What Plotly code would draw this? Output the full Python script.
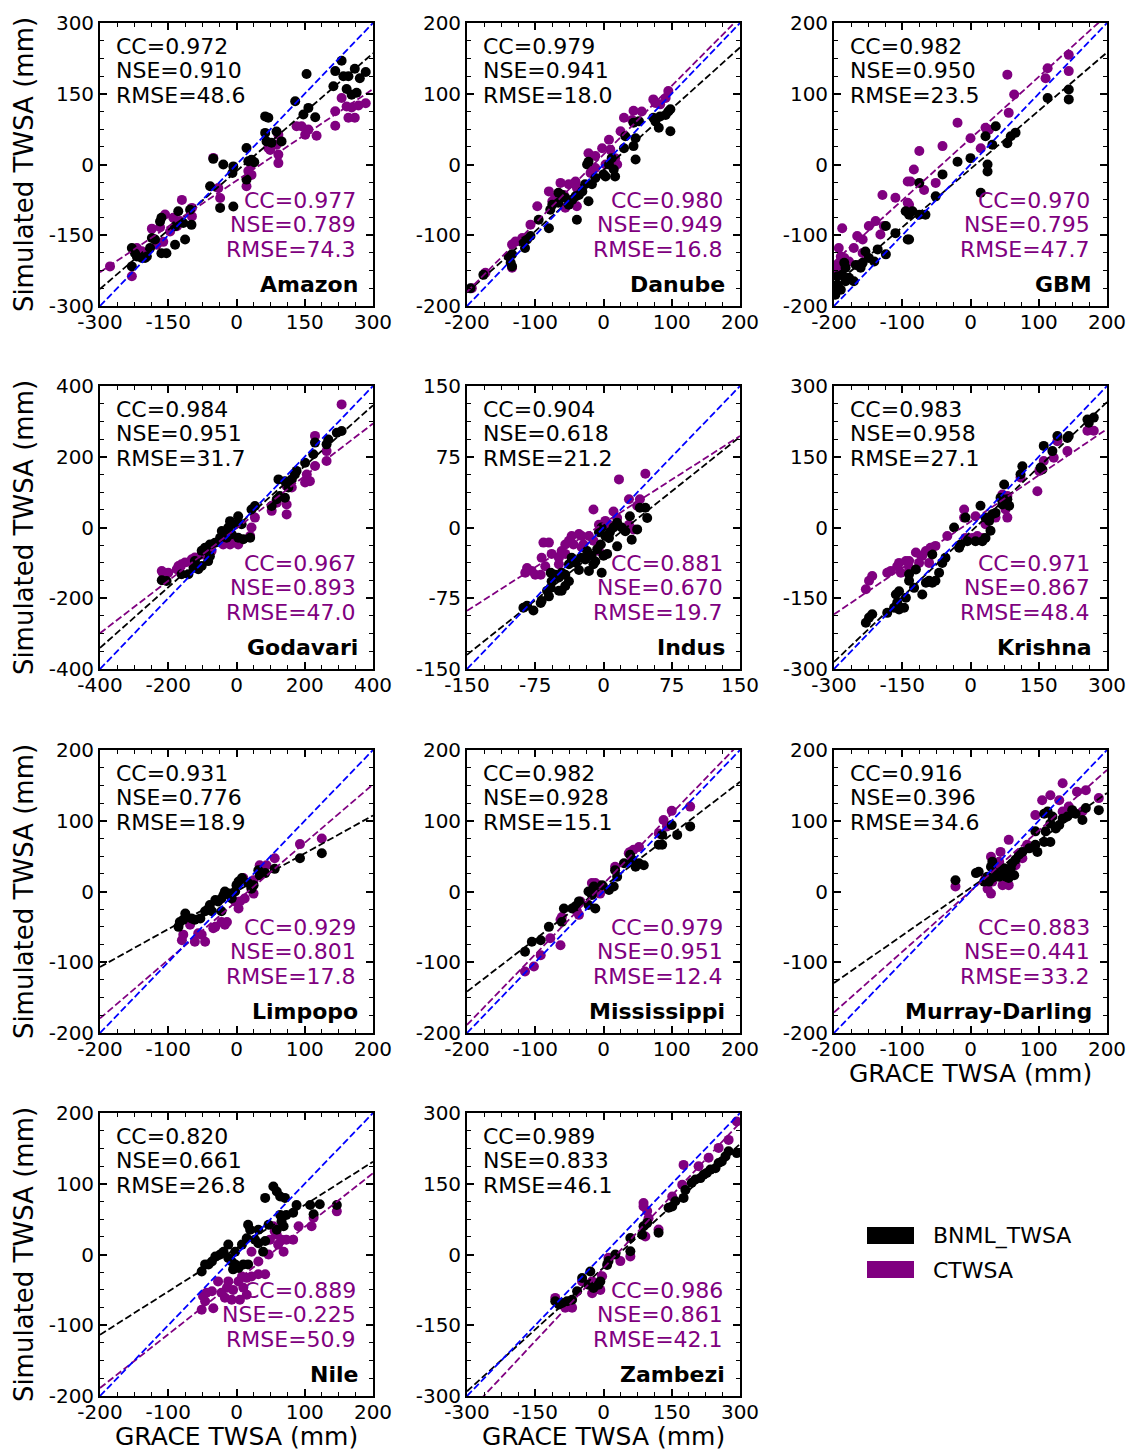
import numpy as np
import plotly.graph_objects as go

# ---------------- data ----------------
BASINS = ["Amazon", "Danube", "GBM", "Godavari", "Indus", "Krishna",
          "Limpopo", "Mississippi", "Murray-Darling", "Nile", "Zambezi"]
AXIS_LIMIT = [300, 200, 200, 400, 150, 300, 200, 200, 200, 200, 300]
TICK_STEP = [150, 100, 100, 200, 75, 150, 100, 100, 100, 100, 150]

CC_BNML = ["0.972", "0.979", "0.982", "0.984", "0.904", "0.983", "0.931", "0.982", "0.916", "0.820", "0.989"]
NSE_BNML = ["0.910", "0.941", "0.950", "0.951", "0.618", "0.958", "0.776", "0.928", "0.396", "0.661", "0.833"]
RMSE_BNML = ["48.6", "18.0", "23.5", "31.7", "21.2", "27.1", "18.9", "15.1", "34.6", "26.8", "46.1"]
CC_CTWSA = ["0.977", "0.980", "0.970", "0.967", "0.881", "0.971", "0.929", "0.979", "0.883", "0.889", "0.986"]
NSE_CTWSA = ["0.789", "0.949", "0.795", "0.893", "0.670", "0.867", "0.801", "0.951", "0.441", "-0.225", "0.861"]
RMSE_CTWSA = ["74.3", "16.8", "47.7", "47.0", "19.7", "48.4", "17.8", "12.4", "33.2", "50.9", "42.1"]

AMAZON_BNML_X = [231,154,217,235,246,260,284,271,213,242,253,264,129,158,147,173,63,70,88,63,66,77,99,22,33,26,39,-51,-29,-7,-9,22,-58,-36,-7,-102,-99,-128,-117,-135,-165,-168,-113,-135,-165,-154,-179,-186,-197,-223,-219,-230,-208,-201,-230,-190]
AMAZON_BNML_Y = [220,192,198,187,187,203,196,183,166,160,148,152,134,120,106,100,102,99,70,67,49,46,49,35,10,7,5,12,0,-4,-18,-32,-46,-92,-89,-96,-128,-99,-124,-131,-113,-121,-159,-170,-188,-188,-159,-156,-195,-188,-195,-177,-198,-198,-216,-177]
AMAZON_CTWSA_X = [231,242,253,268,284,260,246,217,217,176,151,143,132,158,92,88,74,92,92,70,33,26,33,-51,-40,-36,22,-120,-98,-157,-186,-168,-146,-131,-124,-139,-161,-175,-208,-219,-230,-278,-201,-98]
AMAZON_CTWSA_Y = [141,123,121,125,130,99,99,113,82,61,63,81,81,74,63,42,31,21,3,35,0,-14,-22,14,-50,-71,-46,-75,-110,-106,-136,-133,-142,-131,-120,-113,-164,-170,-184,-177,-237,-216,-191,-92]

DANUBE_BNML_X = [98,81,76,73,83,91,95,98,44,52,47,47,44,30,32,12,8,15,17,3,0,-22,-24,-12,-17,-27,-31,-36,-41,-46,-56,-61,-66,-51,-75,-78,-66,-39,-22,-80,-95,-107,-112,-117,-115,-134,-136,-134,-139,-176,-195]
DANUBE_BNML_Y = [47,52,61,66,68,70,75,78,59,61,37,7,26,23,40,9,0,-7,-17,-17,-14,4,0,-19,-28,-28,-38,-43,-45,-50,-47,-43,-40,-57,-57,-64,-54,-78,-52,-90,-78,-101,-106,-109,-118,-127,-139,-144,-130,-156,-175]
DANUBE_CTWSA_X = [95,73,76,83,91,44,56,30,42,25,8,10,-2,-12,-22,17,20,3,-19,-12,-41,-39,-51,-63,-58,-80,-75,-56,-39,-97,-107,-119,-129,-134,-134,-173,-193,-71,-46]
DANUBE_CTWSA_Y = [104,92,87,85,94,76,75,66,63,47,35,21,23,12,16,9,0,0,-12,-5,-24,-33,-28,-26,-43,-38,-52,-61,-59,-59,-85,-104,-109,-113,-146,-153,-175,-47,-50]

GBM_BNML_X = [144,144,113,66,59,54,37,22,32,25,25,15,0,-19,-41,-51,-75,-66,-75,-85,-90,-95,-90,-92,-110,-124,-124,-136,-141,-149,-158,-161,-168,-183,-188,-183,-171,-195,-195,-198,-198,-190,-178,-154,-185]
GBM_BNML_Y = [106,92,94,45,40,30,54,40,28,0,-10,-40,9,4,-14,-45,-26,-71,-71,-66,-71,-66,-106,-106,-97,-87,-127,-120,-137,-132,-139,-146,-142,-146,-156,-165,-165,-158,-170,-184,-175,-177,-160,-123,-139]
GBM_CTWSA_X = [144,144,113,110,54,64,56,22,27,15,0,-19,-41,-75,-83,-92,-88,-51,-68,-129,-110,-92,-90,-139,-149,-166,-132,-127,-158,-171,-158,-188,-193,-190,-195,-185,-198,-178,-163,-190]
GBM_CTWSA_Y = [155,132,136,122,127,99,73,52,49,23,37,59,26,19,-7,-24,-24,-26,-36,-43,-47,-54,-57,-80,-87,-101,-99,-87,-106,-118,-125,-90,-118,-130,-142,-132,-151,-137,-142,-153]

GODAVARI_BNML_X = [308,294,269,264,230,225,201,176,171,162,142,123,152,127,142,118,103,54,44,5,-4,-24,-34,-43,-14,5,20,40,-48,-63,-78,-92,-102,-83,-102,-112,-126,-122,-141,-161,-205,-219,-78,-19,15,-29]
GODAVARI_BNML_Y = [273,268,249,235,240,207,183,160,150,136,131,136,113,89,84,80,61,61,51,32,9,0,-15,-10,-19,-29,-33,-29,-29,-43,-48,-57,-66,-95,-109,-118,-114,-95,-132,-132,-151,-149,-81,18,9,-29]
GODAVARI_CTWSA_X = [308,230,264,264,230,215,201,206,147,162,147,147,103,118,54,44,40,-4,-19,5,-39,-73,-122,-131,-151,-170,-175,-200,-219,-214,-102,-161]
GODAVARI_CTWSA_Y = [348,259,216,188,174,131,127,150,117,113,65,37,47,70,28,0,-24,-33,-48,-48,-48,-66,-85,-90,-99,-109,-118,-128,-123,-132,-76,-104]

INDUS_BNML_X = [46,40,48,37,29,31,24,20,15,11,7,6,2,-2,-5,-3,4,15,-7,-9,-11,-13,-18,-20,-25,-31,-35,-27,-38,-42,-46,-49,-53,-58,-57,-38,-42,-46,-49,-58,-62,-60,-68,-69,-77,-84,-88,-2,-16,0]
INDUS_BNML_Y = [21,21,10,-2,12,-13,-4,0,5,0,-5,-11,-9,0,-5,-18,-28,-20,-23,-36,-39,-30,-25,-34,-32,-37,-32,-45,-39,-50,-48,-53,-50,-48,-57,-57,-62,-67,-67,-64,-67,-73,-78,-80,-88,-83,-85,-48,-46,-30]
INDUS_CTWSA_X = [17,46,40,28,37,11,-11,-5,2,15,28,33,6,-16,-24,-27,-35,-38,-33,-42,-46,-42,-49,-57,-66,-60,-68,-64,-79,-84,-86,-75,-69,-49,-24,-5,-11,-22]
INDUS_CTWSA_Y = [51,57,30,30,23,17,19,3,7,10,3,-2,3,-9,-9,-7,-9,-14,-18,-18,-25,-28,-32,-28,-16,-16,-32,-41,-46,-43,-48,-50,-50,-39,-21,-25,-14,-18]

KRISHNA_BNML_X = [271,257,260,216,213,191,180,161,158,154,114,110,74,81,85,70,66,48,55,33,41,22,-11,-36,44,33,26,11,-7,-25,-22,-55,-62,-69,-77,-84,-91,-98,-84,-120,-135,-135,-124,-157,-164,-161,-146,-157,-168,-183,-216,-223,-230,-106,-142]
KRISHNA_BNML_Y = [233,229,222,194,190,194,162,173,123,127,130,113,91,60,46,49,63,28,31,21,14,46,21,0,-7,-22,-29,-29,-29,-43,-36,-64,-75,-96,-113,-117,-113,-117,-57,-89,-99,-113,-128,-135,-142,-159,-170,-174,-170,-181,-184,-191,-202,-142,-149]
KRISHNA_CTWSA_X = [257,271,191,213,183,161,151,147,110,81,77,81,70,55,33,26,15,4,-11,-14,-14,11,-51,-77,-88,-98,-91,-120,-135,-142,-157,-161,-175,-183,-153,-135,-113,-216,-223,-230,-106]
KRISHNA_CTWSA_Y = [205,205,183,162,148,141,120,77,106,67,38,21,70,21,7,-22,-18,-22,-22,38,21,24,-18,-39,-43,-50,-75,-53,-71,-71,-75,-82,-92,-96,-96,-85,-75,-103,-113,-131,-60]

LIMPOPO_BNML_X = [125,93,56,42,32,34,25,22,17,8,3,0,-2,-10,-17,-19,-22,-27,-31,-39,-41,-46,-53,-61,-66,-75,-78,-83,-85,-22,-36,-7]
LIMPOPO_BNML_Y = [54,47,32,26,30,23,9,4,12,19,14,9,0,-3,0,-5,-10,-14,-12,-19,-24,-28,-38,-40,-38,-31,-40,-43,-50,-28,-28,-10]
LIMPOPO_CTWSA_X = [125,93,56,34,44,25,10,22,25,5,3,-14,-17,-22,-31,-34,-51,-56,-61,-46,-78,-80,-68,-2,12]
LIMPOPO_CTWSA_Y = [75,67,47,37,37,16,19,4,-3,-14,-24,-43,-47,-43,-50,-52,-61,-59,-71,-71,-61,-69,-47,-14,-10]

MISSISSIPPI_BNML_X = [127,108,100,86,81,86,59,52,47,42,39,30,17,20,15,8,-2,-14,-22,-17,-12,-22,-36,-41,-46,-58,-61,-80,-92,-105,-115]
MISSISSIPPI_BNML_Y = [92,80,94,66,66,80,37,40,35,45,52,40,30,21,7,2,9,7,0,-5,-24,-19,-14,-21,-24,-24,-43,-50,-69,-71,-85]
MISSISSIPPI_CTWSA_X = [127,100,88,93,81,52,44,39,37,17,-17,-12,-7,-5,-19,-39,-36,-34,-61,-63,-78,-92,-102,-115,-63]
MISSISSIPPI_CTWSA_Y = [120,114,101,92,82,63,59,56,54,35,12,12,9,-3,0,-28,-33,-14,-36,-40,-66,-90,-106,-113,-76]

MURRAY_BNML_X = [188,164,154,169,149,142,135,130,125,117,120,108,113,110,117,108,95,95,98,86,76,71,66,61,59,54,49,47,42,37,32,27,25,20,12,32,30,8,-22,64,56,52]
MURRAY_BNML_Y = [115,101,110,118,115,106,103,94,89,96,106,110,113,85,70,70,66,85,56,61,56,52,45,40,33,28,33,23,21,26,19,14,21,14,28,42,35,26,16,23,19,21]
MURRAY_CTWSA_X = [135,156,169,188,130,117,105,95,135,144,164,56,44,30,37,22,32,30,25,47,56,42,66,76,83,-22,91]
MURRAY_CTWSA_Y = [153,141,143,132,129,136,129,108,113,120,113,73,56,49,33,19,14,-3,4,9,9,42,37,47,66,7,63]

NILE_BNML_X = [54,59,64,71,42,88,108,122,147,113,83,73,64,66,69,47,59,17,20,32,27,32,42,39,15,8,-2,-12,-19,-24,-31,-36,-41,-46,-51,-12,-7,-2,3,10,17,-5]
NILE_BNML_Y = [96,89,82,80,80,70,70,71,70,57,59,56,56,47,40,42,35,42,35,35,21,16,19,4,23,14,4,14,4,0,-3,-10,-14,-14,-24,-5,-10,-14,-19,-14,-14,-21]
NILE_CTWSA_X = [147,113,110,91,83,73,66,59,56,54,49,61,69,47,22,32,42,32,22,15,8,3,10,15,5,-7,-17,-22,-27,-14,-36,-44,-49,-46,-51,-34,-12,-5]
NILE_CTWSA_Y = [61,52,40,40,21,21,21,28,33,40,21,14,4,0,4,-10,-28,-28,-31,-33,-31,-38,-47,-57,-64,-64,-61,-54,-38,-47,-52,-54,-59,-66,-78,-76,-38,-50]

ZAMBEZI_BNML_X = [293,275,268,260,253,246,235,227,220,213,202,194,180,176,158,151,143,121,96,88,85,59,59,26,11,8,-7,-11,-22,-29,-33,-47,-58,-69,-80,-91,-98,-106]
ZAMBEZI_BNML_Y = [215,219,208,197,194,183,180,173,169,162,159,152,137,120,113,102,99,46,67,60,42,35,7,0,-14,-22,-57,-64,-71,-36,-64,-50,-78,-96,-99,-103,-106,-99]
ZAMBEZI_CTWSA_X = [293,275,253,231,209,176,151,173,88,88,99,121,92,59,37,11,-3,-7,-25,-25,-47,-69,-84,-106,96]
ZAMBEZI_CTWSA_Y = [282,243,226,205,187,190,123,148,109,102,77,53,38,-4,-14,-7,-46,-75,-82,-57,-57,-113,-113,-92,92]

SERIES = {
    "Amazon": (AMAZON_BNML_X, AMAZON_BNML_Y, AMAZON_CTWSA_X, AMAZON_CTWSA_Y),
    "Danube": (DANUBE_BNML_X, DANUBE_BNML_Y, DANUBE_CTWSA_X, DANUBE_CTWSA_Y),
    "GBM": (GBM_BNML_X, GBM_BNML_Y, GBM_CTWSA_X, GBM_CTWSA_Y),
    "Godavari": (GODAVARI_BNML_X, GODAVARI_BNML_Y, GODAVARI_CTWSA_X, GODAVARI_CTWSA_Y),
    "Indus": (INDUS_BNML_X, INDUS_BNML_Y, INDUS_CTWSA_X, INDUS_CTWSA_Y),
    "Krishna": (KRISHNA_BNML_X, KRISHNA_BNML_Y, KRISHNA_CTWSA_X, KRISHNA_CTWSA_Y),
    "Limpopo": (LIMPOPO_BNML_X, LIMPOPO_BNML_Y, LIMPOPO_CTWSA_X, LIMPOPO_CTWSA_Y),
    "Mississippi": (MISSISSIPPI_BNML_X, MISSISSIPPI_BNML_Y, MISSISSIPPI_CTWSA_X, MISSISSIPPI_CTWSA_Y),
    "Murray-Darling": (MURRAY_BNML_X, MURRAY_BNML_Y, MURRAY_CTWSA_X, MURRAY_CTWSA_Y),
    "Nile": (NILE_BNML_X, NILE_BNML_Y, NILE_CTWSA_X, NILE_CTWSA_Y),
    "Zambezi": (ZAMBEZI_BNML_X, ZAMBEZI_BNML_Y, ZAMBEZI_CTWSA_X, ZAMBEZI_CTWSA_Y),
}
LEGEND_LABELS = ["BNML_TWSA", "CTWSA"]
X_TITLE = "GRACE TWSA (mm)"
Y_TITLE = "Simulated TWSA (mm)"
X_TITLE_BASINS = ["Murray-Darling", "Nile", "Zambezi"]

# ---------------- styling / layout ----------------
W, H = 1132, 1451
FONT = "DejaVu Sans"
BLACK = "#000000"
PURPLE = "#800080"
BLUE = "#0000ff"
DASH = "7px,3px"
COL_PX = [(100, 373), (467, 740), (834, 1107)]
ROW_PX = [(23, 306), (386, 669), (750, 1033), (1113, 1396)]

fig = go.Figure()
annotations = []
layout_axes = {}

for i, name in enumerate(BASINS):
    r, c = divmod(i, 3)
    sfx = "" if i == 0 else str(i + 1)
    xa, ya = "x" + sfx, "y" + sfx
    lim, step = AXIS_LIMIT[i], TICK_STEP[i]
    bx, by, cx, cy = SERIES[name]

    fig.add_trace(go.Scatter(x=cx, y=cy, mode="markers", xaxis=xa, yaxis=ya, name="CTWSA",
                             marker=dict(color=PURPLE, size=10, line=dict(width=0)),
                             showlegend=False, hoverinfo="skip"))
    fig.add_trace(go.Scatter(x=bx, y=by, mode="markers", xaxis=xa, yaxis=ya, name="BNML_TWSA",
                             marker=dict(color=BLACK, size=10, line=dict(width=0)),
                             showlegend=False, hoverinfo="skip"))
    xs = np.array([-lim, lim], dtype=float)
    for (px_, py_), col in (((bx, by), BLACK), ((cx, cy), PURPLE)):
        k, b = np.polyfit(np.asarray(px_, float), np.asarray(py_, float), 1)
        fig.add_trace(go.Scatter(x=xs, y=k * xs + b, mode="lines", xaxis=xa, yaxis=ya,
                                 line=dict(color=col, width=1.8, dash=DASH),
                                 showlegend=False, hoverinfo="skip"))
    fig.add_trace(go.Scatter(x=xs, y=xs, mode="lines", xaxis=xa, yaxis=ya,
                             line=dict(color=BLUE, width=1.8, dash=DASH),
                             showlegend=False, hoverinfo="skip"))

    tv = list(range(-lim, lim + 1, step))
    common = dict(
        range=[-lim, lim], tickmode="array", tickvals=tv, ticktext=[str(v) for v in tv],
        automargin=False,
        showline=True, linecolor="black", linewidth=1.8, mirror="ticks",
        ticks="inside", ticklen=7, tickwidth=1.5, tickcolor="black",
        showgrid=False, zeroline=False,
        tickfont=dict(family=FONT, size=20, color="black"),
        minor=dict(tickmode="linear", tick0=-lim, dtick=step / 4, ticks="inside",
                   ticklen=4, tickwidth=1.2, tickcolor="black", showgrid=False),
    )
    x0, x1 = COL_PX[c]
    y0, y1 = ROW_PX[r]
    xaxis = dict(common, domain=[x0 / W, x1 / W], anchor=ya, ticklabelstandoff=-3)
    yaxis = dict(common, domain=[1 - y1 / H, 1 - y0 / H], anchor=xa)
    if c == 0:
        yaxis["title"] = dict(text=Y_TITLE, font=dict(family=FONT, size=26, color="black"), standoff=8)
    layout_axes["xaxis" + sfx] = xaxis
    layout_axes["yaxis" + sfx] = yaxis

    if name in X_TITLE_BASINS:
        annotations.append(dict(text=X_TITLE, xref="paper", yref="paper",
                                x=(x0 + x1) / 2 / W, y=1 - (y1 + 40) / H,
                                xanchor="center", yanchor="middle", showarrow=False, borderpad=0,
                                font=dict(family=FONT, size=25, color="black")))

    xd, yd = xa + " domain", ya + " domain"
    for j, txt in enumerate([f"CC={CC_BNML[i]}", f"NSE={NSE_BNML[i]}", f"RMSE={RMSE_BNML[i]}"]):
        annotations.append(dict(text=txt, xref=xd, yref=yd, x=0.05, y=0.918 - j * 0.0865,
                                xanchor="left", yanchor="middle", showarrow=False,
                                font=dict(family=FONT, size=22, color=BLACK)))
    for j, txt in enumerate([f"CC={CC_CTWSA[i]}", f"NSE={NSE_CTWSA[i]}", f"RMSE={RMSE_CTWSA[i]}"]):
        annotations.append(dict(text=txt, xref=xd, yref=yd, x=0.945, y=0.373 - j * 0.0865,
                                xanchor="right", yanchor="middle", showarrow=False,
                                font=dict(family=FONT, size=22, color=PURPLE)))
    annotations.append(dict(text=f"<b>{name}</b>", xref=xd, yref=yd, x=0.953, y=0.076,
                            xanchor="right", yanchor="middle", showarrow=False,
                            font=dict(family=FONT, size=22, color=BLACK)))

# legend (patch style)
shapes = []
for j, (lab, col) in enumerate(zip(LEGEND_LABELS, [BLACK, PURPLE])):
    top = 1227 + j * 34
    shapes.append(dict(type="rect", xref="paper", yref="paper",
                       x0=867 / W, x1=914 / W, y0=1 - (top + 17) / H, y1=1 - top / H,
                       fillcolor=col, line=dict(width=0)))
    annotations.append(dict(text=lab, xref="paper", yref="paper", x=931 / W, y=1 - (top + 9) / H,
                            xanchor="left", yanchor="middle", showarrow=False,
                            font=dict(family=FONT, size=22, color="black")))

fig.update_layout(
    width=W, height=H, margin=dict(l=0, r=0, t=0, b=0, autoexpand=False),
    paper_bgcolor="white", plot_bgcolor="white",
    font=dict(family=FONT, color="black"),
    showlegend=False, annotations=annotations, shapes=shapes,
    **layout_axes,
)
fig.write_html("out.html")
